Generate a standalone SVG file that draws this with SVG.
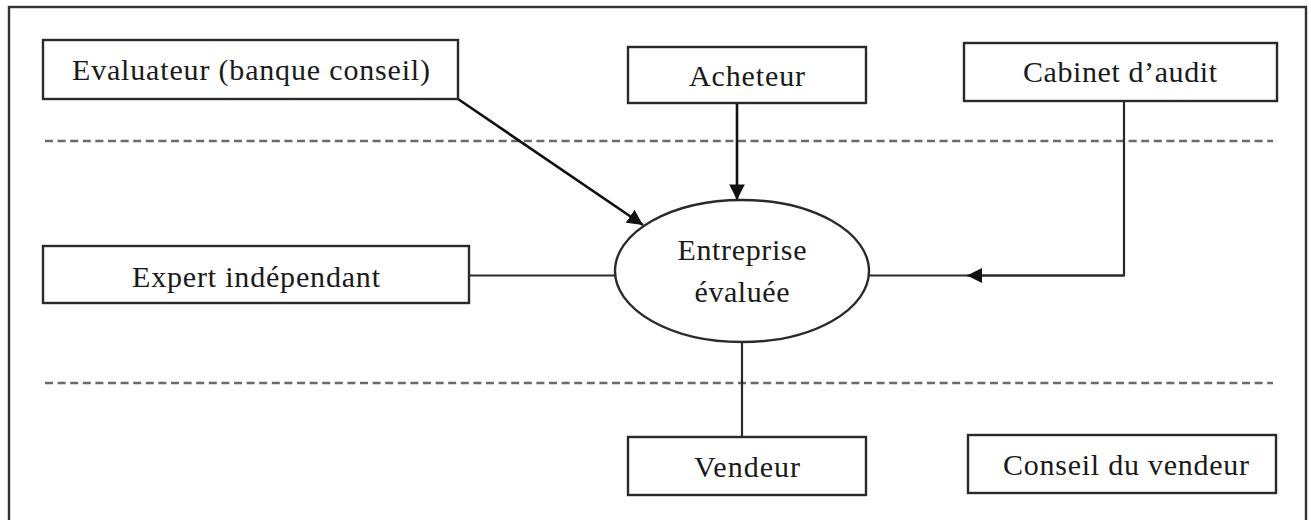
<svg xmlns="http://www.w3.org/2000/svg" width="1311" height="520" viewBox="0 0 1311 520">
  <style>
    .box { fill: #ffffff; stroke: #2a2a2a; stroke-width: 2.4; }
    .lbl { font-family: "Liberation Serif", "Times New Roman", serif; font-size: 30px; fill: #1a1a1a; text-anchor: middle; }
    .sep { stroke: #6a6a6a; stroke-width: 2.5; stroke-dasharray: 8 4.6; fill: none; }
    .wire { stroke: #2a2a2a; stroke-width: 2.2; fill: none; }
    .thick { stroke: #111111; stroke-width: 2.6; fill: none; }
  </style>
  <defs>
    <marker id="head" viewBox="0 0 10 10" refX="10" refY="5" markerWidth="6" markerHeight="6" markerUnits="strokeWidth" orient="auto">
      <path d="M0,0 L10,5 L0,10 z" fill="#111111"/>
    </marker>
    <marker id="headThin" viewBox="0 0 10 10" refX="10" refY="5" markerWidth="7" markerHeight="7" markerUnits="strokeWidth" orient="auto">
      <path d="M0,0 L10,5 L0,10 z" fill="#111111"/>
    </marker>
  </defs>

  <rect width="1311" height="520" fill="#ffffff"/>
  <!-- outer frame (open at the bottom edge of the canvas) -->
  <rect x="9" y="7" width="1297" height="530" fill="none" stroke="#333333" stroke-width="2.4"/>

  <!-- separators -->
  <g id="separators">
    <line class="sep" x1="45" y1="141" x2="1273" y2="141"/>
    <line class="sep" x1="45" y1="383" x2="1273" y2="383"/>
  </g>

  <!-- connectors -->
  <g id="connectors">
    <line class="thick" x1="458" y1="99" x2="643" y2="225" marker-end="url(#head)"/>
    <line class="thick" x1="737" y1="103" x2="737" y2="200" marker-end="url(#head)"/>
    <line class="wire" x1="469" y1="275.5" x2="615" y2="275.5"/>
    <polyline class="wire" points="1124,101 1124,275.5 869,275.5"/>
    <line class="wire" x1="1124" y1="275.5" x2="967" y2="275.5" marker-end="url(#headThin)"/>
    <line class="wire" x1="742" y1="342" x2="742" y2="437"/>
  </g>

  <g id="evaluateur">
    <rect class="box" x="43" y="40" width="415" height="59"/>
    <text class="lbl" x="251" y="80" textLength="358" lengthAdjust="spacing">Evaluateur (banque conseil)</text>
  </g>

  <g id="acheteur">
    <rect class="box" x="628" y="47" width="238" height="56"/>
    <text class="lbl" x="747" y="86" textLength="116" lengthAdjust="spacing">Acheteur</text>
  </g>

  <g id="cabinet">
    <rect class="box" x="964" y="43" width="313" height="58"/>
    <text class="lbl" x="1120" y="82" textLength="194" lengthAdjust="spacing">Cabinet d’audit</text>
  </g>

  <g id="expert">
    <rect class="box" x="43" y="246" width="426" height="57"/>
    <text class="lbl" x="256" y="287" textLength="248" lengthAdjust="spacing">Expert indépendant</text>
  </g>

  <g id="entreprise">
    <ellipse class="box" cx="742" cy="271" rx="127" ry="71"/>
    <text class="lbl" x="742" y="260" textLength="129" lengthAdjust="spacing">Entreprise</text>
    <text class="lbl" x="742" y="302" textLength="95" lengthAdjust="spacing">évaluée</text>
  </g>

  <g id="vendeur">
    <rect class="box" x="628" y="437" width="238" height="58"/>
    <text class="lbl" x="747" y="477" textLength="106" lengthAdjust="spacing">Vendeur</text>
  </g>

  <g id="conseil-vendeur">
    <rect class="box" x="968" y="435" width="308" height="58"/>
    <text class="lbl" x="1126" y="475" textLength="246" lengthAdjust="spacing">Conseil du vendeur</text>
  </g>
</svg>
